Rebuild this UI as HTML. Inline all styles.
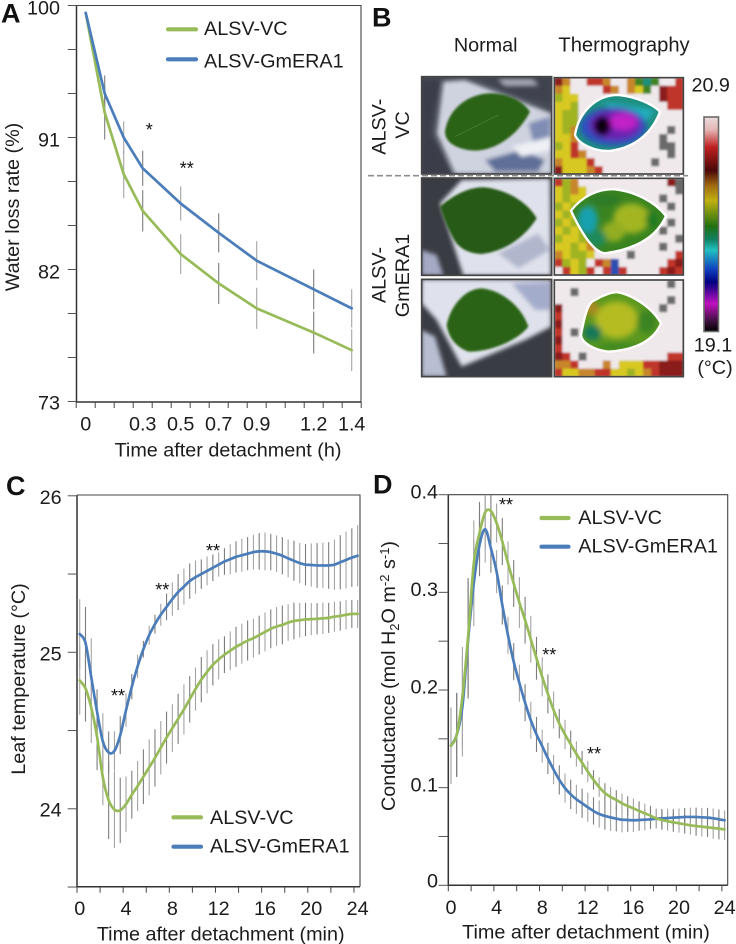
<!DOCTYPE html>
<html lang="en">
<head>
<meta charset="utf-8">
<title>ALSV-GmERA1 water loss and leaf physiology</title>
<style>
html,body{margin:0;padding:0;background:#fff;}
svg{position:absolute;left:0;top:0;display:block;}
text{font-family:"Liberation Sans",Arial,sans-serif;fill:#1c1c1c;font-size:19.8px;}
.pl{font-weight:bold;font-size:27px;fill:#111;}
.ast{font-size:18px;fill:#111;}
</style>
</head>
<body>
<svg id="fig" xmlns="http://www.w3.org/2000/svg" width="736" height="944" viewBox="0 0 736 944">
<defs>
<linearGradient id="cbar" x1="0" y1="0" x2="0" y2="1">
<stop offset="0" stop-color="#ecdcdc"/><stop offset="0.06" stop-color="#e4b4b4"/><stop offset="0.14" stop-color="#c02020"/>
<stop offset="0.25" stop-color="#4a0808"/><stop offset="0.32" stop-color="#a06a10"/><stop offset="0.39" stop-color="#c0b010"/>
<stop offset="0.51" stop-color="#207010"/><stop offset="0.57" stop-color="#108060"/><stop offset="0.62" stop-color="#20c0c0"/>
<stop offset="0.71" stop-color="#1040c0"/><stop offset="0.77" stop-color="#000080"/><stop offset="0.87" stop-color="#c010c0"/>
<stop offset="0.95" stop-color="#401040"/><stop offset="1" stop-color="#000"/>
</linearGradient>
<filter id="soft" x="-5%" y="-5%" width="110%" height="110%"><feGaussianBlur stdDeviation="6"/></filter>
<filter id="soft2" x="-5%" y="-5%" width="110%" height="110%"><feGaussianBlur stdDeviation="3"/></filter>
<filter id="soft3" x="-15%" y="-15%" width="130%" height="130%"><feGaussianBlur stdDeviation="9"/></filter>
<clipPath id="clipD"><rect x="440" y="494.7" width="295" height="395"/></clipPath>
<clipPath id="cN1"><rect x="170" y="230" width="390" height="292"/></clipPath>
<clipPath id="cN2"><rect x="170" y="24" width="390" height="292"/></clipPath>
<clipPath id="cN3"><rect x="170" y="328" width="390" height="292"/></clipPath>
<clipPath id="cT1"><rect x="568" y="233" width="387" height="289"/></clipPath>
<clipPath id="cT2"><rect x="568" y="25" width="387" height="290"/></clipPath>
<clipPath id="cT3"><rect x="568" y="330" width="387" height="290"/></clipPath>
<clipPath id="cL1"><path d="M630 405 C640 340 690 285 760 285 C810 290 860 310 885 335 C865 390 820 440 740 452 C690 458 640 430 630 405Z"/></clipPath>
<clipPath id="cL2"><path d="M618 122 C650 80 700 55 750 58 C810 65 870 95 903 138 C880 190 830 235 720 250 C680 245 640 170 618 122Z"/></clipPath>
<clipPath id="cL3"><path d="M648 495 C660 430 670 395 690 390 C710 378 740 365 760 367 C800 375 860 410 888 460 C870 505 820 540 730 545 C690 540 650 520 648 495Z"/></clipPath>
</defs>

<text class="pl" x="1" y="22.7">A</text>
<text class="pl" x="372" y="26.7">B</text>
<text class="pl" x="6" y="495">C</text>
<text class="pl" x="373" y="493.5">D</text>

<!-- Panel B photographs -->
<g id="panelB">
<g transform="translate(365,0) scale(0.33333)">
  <g clip-path="url(#cN1)">
    <rect x="170" y="230" width="390" height="292" fill="#474b58"/>
    <g filter="url(#soft)">
      <polygon points="170,240 225,240 195,400 265,522 170,522" fill="#3a3c48"/>
      <polygon points="235,245 300,240 560,340 560,522 270,522 215,400" fill="#cfd3e0"/>
      <polygon points="340,235 560,235 560,310 470,290" fill="#3f4350"/>
      <polygon points="400,238 500,238 520,255 420,256" fill="#a8acb8"/>
      <polygon points="360,480 470,450 540,480 520,515 390,515" fill="#5f6f98"/>
      <polygon points="490,370 555,350 555,440 505,430" fill="#7f8cb4"/>
      <polygon points="440,440 560,410 560,450 470,470" fill="#eef0f6"/>
    </g>
    <path d="M240 395 C250 320 320 275 390 280 C440 285 475 305 495 335 C470 385 410 450 330 452 C280 450 240 430 240 395Z" fill="#2b6216" filter="url(#soft2)"/>
    <path d="M270 410 L400 345" stroke="#417a2a" stroke-width="3" fill="none"/>
  </g>
  <rect x="170" y="230" width="390" height="292" fill="none" stroke="#444" stroke-width="5"/>
  <g clip-path="url(#cT1)"><g id="t1" filter="url(#soft2)"></g>
    <g clip-path="url(#cL1)">
      <rect x="620" y="280" width="270" height="180" fill="#1f8f80"/>
      <g filter="url(#soft3)">
        <path d="M680 300 L870 330 L830 380 L700 300Z" fill="#22b0c0"/>
        <ellipse cx="745" cy="380" rx="100" ry="58" fill="#2a4fc0"/>
        <ellipse cx="750" cy="375" rx="78" ry="46" fill="#6a20b0"/>
        <ellipse cx="775" cy="365" rx="42" ry="26" fill="#c020c8"/>
        <ellipse cx="712" cy="378" rx="26" ry="30" fill="#0a0410"/>
        <ellipse cx="712" cy="378" rx="22" ry="26" fill="#0a0410"/>
      </g>
    </g>
    <path d="M630 405 C640 340 690 285 760 285 C810 290 860 310 885 335 C865 390 820 440 740 452 C690 458 640 430 630 405Z" fill="none" stroke="#fff" stroke-width="7"/>
  </g>
  <rect x="568" y="233" width="387" height="289" fill="none" stroke="#444" stroke-width="5"/>
</g>
<g transform="translate(365,170) scale(0.33333)">
  <g clip-path="url(#cN2)">
    <rect x="170" y="24" width="390" height="292" fill="#3a3c44"/>
    <g filter="url(#soft)">
      <polygon points="225,100 290,30 555,25 558,316 295,316" fill="#dfe2ec"/>
      <polygon points="170,240 215,255 235,316 170,316" fill="#a4aac4"/>
      <polygon points="400,250 520,190 555,240 460,295" fill="#b0b6cc"/>
    </g>
    <path d="M225 110 C270 70 320 50 360 52 C430 60 490 100 515 145 C480 200 420 245 350 252 C310 250 280 235 265 205 C245 170 235 140 225 110Z" fill="#255a18" filter="url(#soft2)"/>
  </g>
  <rect x="170" y="24" width="390" height="292" fill="none" stroke="#444" stroke-width="5"/>
  <g clip-path="url(#cT2)"><g id="t2" filter="url(#soft2)"></g>
    <g clip-path="url(#cL2)">
      <rect x="610" y="50" width="300" height="205" fill="#3a8420"/>
      <g filter="url(#soft3)">
        <ellipse cx="800" cy="145" rx="55" ry="45" fill="#a3b624"/>
        <ellipse cx="745" cy="185" rx="35" ry="30" fill="#93ad22"/>
        <ellipse cx="720" cy="90" rx="50" ry="18" fill="#2e7a28"/>
        <ellipse cx="860" cy="150" rx="18" ry="25" fill="#1f7a20"/>
        <ellipse cx="668" cy="150" rx="30" ry="42" fill="#18a0b0"/>
        <ellipse cx="695" cy="205" rx="30" ry="25" fill="#1e8a5a"/>
      </g>
    </g>
    <path d="M618 122 C650 80 700 55 750 58 C810 65 870 95 903 138 C880 190 830 235 720 250 C680 245 640 170 618 122Z" fill="none" stroke="#fff" stroke-width="7"/>
  </g>
  <rect x="568" y="25" width="387" height="290" fill="none" stroke="#444" stroke-width="5"/>
  <g clip-path="url(#cN3)">
    <rect x="170" y="328" width="390" height="292" fill="#3a3c44"/>
    <g filter="url(#soft)">
      <polygon points="170,328 558,328 558,470 480,510 290,590 215,450 170,400" fill="#dfe2ec"/>
      <polygon points="170,480 210,500 245,620 170,620" fill="#b8bed2"/>
      <polygon points="440,340 555,335 555,420 510,420" fill="#a4accc"/>
    </g>
    <path d="M245 465 C255 410 300 355 350 355 C410 360 470 410 490 470 C460 510 380 545 310 545 C270 530 250 500 245 465Z" fill="#2a6417" filter="url(#soft2)"/>
  </g>
  <rect x="170" y="328" width="390" height="292" fill="none" stroke="#444" stroke-width="5"/>
  <g clip-path="url(#cT3)"><g id="t3" filter="url(#soft2)"></g>
    <g clip-path="url(#cL3)">
      <rect x="640" y="360" width="255" height="190" fill="#5c9820"/>
      <g filter="url(#soft3)">
        <ellipse cx="755" cy="450" rx="65" ry="55" fill="#b4bc22"/>
        <ellipse cx="680" cy="415" rx="22" ry="22" fill="#a88a22"/>
        <ellipse cx="845" cy="455" rx="30" ry="35" fill="#3a8420"/>
        <ellipse cx="682" cy="488" rx="28" ry="24" fill="#177858"/>
        <ellipse cx="760" cy="530" rx="70" ry="12" fill="#3f8a22"/>
      </g>
    </g>
    <path d="M648 495 C660 430 670 395 690 390 C710 378 740 365 760 367 C800 375 860 410 888 460 C870 505 820 540 730 545 C690 540 650 520 648 495Z" fill="none" stroke="#fff" stroke-width="7"/>
  </g>
  <rect x="568" y="330" width="387" height="290" fill="none" stroke="#444" stroke-width="5"/>
</g>
<line x1="368" y1="175.7" x2="688" y2="175.7" stroke="#8c8c8c" stroke-width="1.6" stroke-dasharray="6 3"/>
<text x="485.7" y="51.7" text-anchor="middle">Normal</text>
<text x="624" y="51.7" text-anchor="middle" style="font-size:20.2px">Thermography</text>
<text transform="translate(385.7,126.7) rotate(-90)" text-anchor="middle">ALSV-</text>
<text transform="translate(409,125) rotate(-90)" text-anchor="middle">VC</text>
<text transform="translate(385.7,275) rotate(-90)" text-anchor="middle">ALSV-</text>
<text transform="translate(409,275.5) rotate(-90)" text-anchor="middle">GmERA1</text>
<rect x="704" y="117" width="14.5" height="214.5" fill="url(#cbar)" stroke="#6a6a6a" stroke-width="1.6"/>
<text x="710.7" y="91.7" text-anchor="middle">20.9</text>
<text x="713" y="351.7" text-anchor="middle">19.1</text>
<text x="715" y="374" text-anchor="middle">(°C)</text>
</g>

<!-- Static axis titles -->
<text transform="translate(19,207) rotate(-90)" text-anchor="middle">Water loss rate (%)</text>
<text x="228" y="456.7" text-anchor="middle">Time after detachment (h)</text>
<text transform="translate(25,679) rotate(-90)" text-anchor="middle">Leaf temperature (°C)</text>
<text x="220.7" y="940.7" text-anchor="middle">Time after detachment (min)</text>
<text transform="translate(395,676) rotate(-90)" text-anchor="middle">Conductance (mol H<tspan font-size="13" dy="4">2</tspan><tspan dy="-4">O m</tspan><tspan font-size="13" dy="-6">-2</tspan><tspan dy="6"> s</tspan><tspan font-size="13" dy="-6">-1</tspan><tspan dy="6">)</tspan></text>
<text x="586" y="938.3" text-anchor="middle">Time after detachment (min)</text>

<!-- Significance marks -->
<text class="ast" x="149.3" y="136" text-anchor="middle">*</text>
<text class="ast" x="186.7" y="174.5" text-anchor="middle">**</text>
<text class="ast" x="118" y="702" text-anchor="middle">**</text>
<text class="ast" x="162.3" y="596" text-anchor="middle">**</text>
<text class="ast" x="213" y="557" text-anchor="middle">**</text>
<text class="ast" x="506" y="511" text-anchor="middle">**</text>
<text class="ast" x="549.3" y="661" text-anchor="middle">**</text>
<text class="ast" x="594" y="760" text-anchor="middle">**</text>
</svg>

<script>
// ---- Panel A data ----
const aTimes = [0, 0.1, 0.2, 0.3, 0.5, 0.7, 0.9, 1.2, 1.4];
const aGreen = [99.5, 92.7, 88.5, 86.0, 83.05, 81.05, 79.35, 77.7, 76.5];
const aBlue = [99.5, 94.0, 91.0, 88.9, 86.5, 84.5, 82.6, 80.65, 79.35];
const aGreenErr = [0, 1.84, 1.64, 1.41, 1.36, 1.4, 1.4, 1.43, 1.43];
const aBlueErr = [0, 1.23, 1.1, 1.2, 1.16, 1.33, 1.33, 1.36, 1.3];
const aYTicks = [100, 97, 94, 91, 88, 85, 82, 79, 76, 73];
const aYLabels = [100, 91, 82, 73];
const aXTicks = [-0.05, 0.05, 0.15, 0.25, 0.35, 0.45, 0.55, 0.65, 0.75, 0.85, 0.95, 1.05, 1.15, 1.25, 1.35, 1.45];
const aXLabels = ['0', '0.3', '0.5', '0.7', '0.9', '1.2', '1.4'];
const aXLabelValues = [0, 0.3, 0.5, 0.7, 0.9, 1.2, 1.4];

// ---- Panels C and D share the half-minute time base ----
const minTimes = [0,0.5,1,1.5,2,2.5,3,3.5,4,4.5,5,5.5,6,6.5,7,7.5,8,8.5,9,9.5,10,10.5,11,11.5,12,12.5,13,13.5,14,14.5,15,15.5,16,16.5,17,17.5,18,18.5,19,19.5,20,20.5,21,21.5,22,22.5,23,23.5,24];
const minXTicks = [0, 2, 4, 6, 8, 10, 12, 14, 16, 18, 20, 22, 24];
const minXLabels = [0, 4, 8, 12, 16, 20, 24];

// ---- Panel C data ----
const cGreen = [24.82,24.77,24.645,24.46,24.2,24.055,23.995,23.99,24.03,24.09,24.145,24.205,24.265,24.325,24.39,24.455,24.515,24.575,24.635,24.7,24.765,24.825,24.875,24.92,24.955,24.985,25.01,25.035,25.055,25.075,25.09,25.11,25.13,25.15,25.165,25.175,25.19,25.2,25.205,25.21,25.212,25.214,25.217,25.22,25.228,25.232,25.24,25.245,25.245];
const cBlue = [25.117,25.06,24.84,24.62,24.43,24.36,24.37,24.47,24.63,24.78,24.91,25.02,25.11,25.18,25.24,25.29,25.34,25.385,25.42,25.455,25.48,25.5,25.52,25.54,25.56,25.58,25.595,25.61,25.62,25.63,25.64,25.645,25.645,25.64,25.63,25.617,25.6,25.585,25.57,25.56,25.558,25.555,25.555,25.555,25.56,25.575,25.59,25.605,25.617];
const cGreenErr = [.219,.213,.224,.213,.177,.249,.245,.209,.177,.153,.16,.175,.179,.183,.17,.166,.153,.16,.16,.149,.138,.145,.138,.132,.128,.117,.124,.128,.128,.128,.124,.124,.124,.124,.124,.124,.117,.117,.111,.106,.102,.1,.1,.096,.096,.094,.094,.089,.089];
const cBlueErr = [.222,.23,.249,.143,.181,.134,.126,.121,.106,.081,.075,.053,.06,.06,.07,.085,.106,.115,.115,.113,.106,.094,.092,.085,.077,.085,.096,.1,.106,.106,.111,.117,.121,.117,.117,.119,.121,.128,.128,.132,.138,.143,.145,.149,.16,.173,.181,.187,.196];
const cYTicks = [26, 25.5, 25, 24.5, 24, 23.5];
const cYLabels = [26, 25, 24];

// ---- Panel D data ----
const dGreen = [.143,.154,.193,.2546,.3297,.3607,.382,.3833,.371,.352,.33,.309,.2895,.2715,.252,.2325,.2135,.196,.1795,.1655,.1545,.1445,.1345,.1255,.1165,.108,.1005,.0945,.0905,.0874,.084,.0812,.0788,.0761,.0737,.0713,.0686,.0669,.0655,.0645,.0635,.0625,.0614,.0607,.06,.0594,.0587,.058,.0573];
const dBlue = [.143,.154,.183,.2512,.3093,.3485,.3646,.3451,.3212,.287,.256,.229,.207,.187,.169,.1545,.1425,.13,.1185,.108,.0995,.0932,.0881,.084,.0799,.0761,.073,.071,.0696,.0682,.0672,.0669,.0666,.0669,.0672,.0676,.0682,.0686,.0689,.0693,.0696,.07,.07,.07,.0696,.0693,.0686,.0676,.0666];
const dGreenErr = [.039,.043,.051,.06,.044,.032,.038,.027,.02,.024,.022,.024,.026,.024,.024,.022,.02,.02,.019,.015,.015,.014,.013,.012,.011,.01,.01,.01,.01,.01,.01,.01,.01,.01,.01,.01,.01,.01,.0096,.0096,.0096,.0096,.0096,.01,.01,.01,.011,.011,.011];
const dBlueErr = [.039,.043,.051,.06,.044,.032,.034,.025,.022,.02,.019,.019,.019,.019,.019,.018,.017,.016,.015,.015,.015,.015,.015,.015,.015,.014,.014,.014,.014,.013,.013,.012,.012,.011,.011,.01,.01,.0095,.0095,.009,.009,.0092,.0095,.0095,.0095,.01,.01,.01,.01];
const dYTicks = [0.4, 0.35, 0.3, 0.25, 0.2, 0.15, 0.1, 0.05, 0];
const dYLabels = ['0.4', '0.3', '0.2', '0.1', '0'];
const dYLabelValues = [0.4, 0.3, 0.2, 0.1, 0];

const seriesNames = ['ALSV-VC', 'ALSV-GmERA1'];

// ---- Thermography surroundings (coarse colour blocks) ----
const thermoPalette = {w:'#efe9ec',r:'#c0352a',d:'#8a1a1c',o:'#c8862a',y:'#d8c820',l:'#a0b420',g:'#3f8420',t:'#1e8f78',c:'#2aa8c0',b:'#2a4fb0',p:'#7020a8',m:'#b020c0',k:'#100818',n:'#6a6a6a'};
const thermo1 = ["dowwrrowwogtgwwr","oywwwwrowoygwdrr","lyywwwwwwwwwwdrr","yylwwwwwwwwwwwrr","yllwwwwwwwwwwwww","yllwwwwwwwwwwwww","ylowwwwwwwwwwwnw","yyowwwwwwwwwwnww","lyrwwwwwwwwwwnnw","yyrowwwwwwwwwwnw","oyyyrwwwwwwwnwww","dyyyorwwwwwwwwww"];
const thermo2 = ["rlowwwwwwwwwwwdn","yloywwwwwwwwwwwn","ylyywwwwwwwwwnww","lylrwwwwwwwwwwnw","ylylwwwwwwwwwwww","lylywwwwwwwwwwnw","ylylwwwwwwwwwnww","lyyloowwwwwwwwwn","yylyowwwwwwwwnww","oyllywwwwnwwwwwr","rlylwrobwwwwwwrd","wrylrwrbrwwwwrdr"];
const thermo3 = ["wwwwwwwwwwwwwwnw","wwnwwwwwwwwwwwww","wwwwwwwwwwwwwwnw","dwwwwwwwwwwwwnww","rwwwwwwwwwwwwwww","dwwwwwwwwwwwnwww","rwnwwwwwwwwwwwww","dwwwwwwwwwwwwwww","rwwwwwwwwwwwwwww","drwnwwwwwwwwwwrr","oorwwwowyyyrrddd","ryyoorryylyorddd"];

const NS = 'http://www.w3.org/2000/svg';
const GREEN = '#97bb58';
const BLUE = '#4a7dba';
const svg = document.getElementById('fig');

function add(parent, tag, attrs, txt) {
  const el = document.createElementNS(NS, tag);
  for (const k in attrs) el.setAttribute(k, attrs[k]);
  if (txt !== undefined) el.textContent = txt;
  parent.appendChild(el);
  return el;
}

function drawMosaic(targetId, rows, x0, y0) {
  const g = document.getElementById(targetId);
  const cw = 387 / rows[0].length;
  const ch = 290 / rows.length;
  rows.forEach(function (row, r) {
    row.split('').forEach(function (c, i) {
      const cell = add(g, 'rect', {x: x0 + i * cw, y: y0 + r * ch, width: cw + 1, height: ch + 1, fill: thermoPalette[c]});
      
      
    });
  });
}
drawMosaic('t1', thermo1, 568, 233);
drawMosaic('t2', thermo2, 568, 25);
drawMosaic('t3', thermo3, 568, 330);

function linePath(xs, ys, fx, fy, smooth) {
  const pts = xs.map(function (v, i) { return [fx(v), fy(ys[i])]; });
  let d = 'M' + pts[0][0].toFixed(2) + ' ' + pts[0][1].toFixed(2);
  for (let i = 1; i < pts.length; i++) {
    const p1 = pts[i - 1], p2 = pts[i];
    if (!smooth) { d += ' L' + p2[0].toFixed(2) + ' ' + p2[1].toFixed(2); continue; }
    const p0 = pts[i - 2] || p1, p3 = pts[i + 1] || p2;
    d += ' C' + (p1[0] + (p2[0] - p0[0]) / 6).toFixed(2) + ' ' + (p1[1] + (p2[1] - p0[1]) / 6).toFixed(2) +
         ' ' + (p2[0] - (p3[0] - p1[0]) / 6).toFixed(2) + ' ' + (p2[1] - (p3[1] - p1[1]) / 6).toFixed(2) +
         ' ' + p2[0].toFixed(2) + ' ' + p2[1].toFixed(2);
  }
  return d;
}

function drawChart(c) {
  const root = add(svg, 'g', {});
  
  

  const frame = add(root, 'path', {d: 'M' + c.left + ' ' + c.top + ' H' + c.right + ' V' + c.bottom, fill: 'none', stroke: '#444', 'stroke-width': 1.1});
  
  
  const axes = add(root, 'path', {d: 'M' + c.left + ' ' + c.top + ' V' + c.bottom + ' H' + c.right, fill: 'none', stroke: '#333', 'stroke-width': 1.5});
  
  

  c.yTicks.forEach(function (v) {
    const t = add(root, 'line', {x1: c.tickLeft, x2: c.left, y1: c.y(v), y2: c.y(v), stroke: '#555', 'stroke-width': 1});
    
    
  });
  c.yLabelValues.forEach(function (v, i) {
    const isLast = i === c.yLabelValues.length - 1;
    const t = add(root, 'text', {x: c.yLabelX, y: c.y(v) + (isLast ? c.yLabelDyLast : c.yLabelDy), 'text-anchor': 'end'}, c.yLabels[i]);
    
    
  });
  c.xTicks.forEach(function (v) {
    const t = add(root, 'line', {x1: c.tickX(v), x2: c.tickX(v), y1: c.bottom, y2: c.bottom + 6, stroke: '#444', 'stroke-width': 1});
    
    
  });
  c.xLabelValues.forEach(function (v, i) {
    const t = add(root, 'text', {x: c.x(v), y: c.xLabelY, 'text-anchor': 'middle'}, c.xLabels[i]);
    
    
  });

  const barLayer = add(root, 'g', c.clip ? {'clip-path': c.clip} : {});
  
  
  c.series.forEach(function (s) {
    s.values.forEach(function (v, i) {
      if (!s.err[i]) return;
      const b = add(barLayer, 'line', {x1: c.x(c.times[i]), x2: c.x(c.times[i]), y1: c.y(v + s.err[i]), y2: c.y(v - s.err[i]), stroke: i % 2 ? '#7d7d7d' : '#a4a4a4', 'stroke-width': 1.1});
      
      
    });
  });
  c.series.forEach(function (s) {
    const p = add(root, 'path', {d: linePath(c.times, s.values, c.x, c.y, c.smooth), fill: 'none', stroke: s.color, 'stroke-width': 2.7, 'stroke-linejoin': 'round', 'stroke-linecap': 'round'});
    
    
  });

  c.legend.forEach(function (l, i) {
    const ln = add(root, 'line', {x1: c.legendX1, x2: c.legendX2, y1: l.lineY, y2: l.lineY, stroke: i ? BLUE : GREEN, 'stroke-width': 4.2, 'stroke-linecap': 'round'});
    
    
    const tx = add(root, 'text', {x: c.legendTextX, y: l.textY}, seriesNames[i]);
    
    
  });
}

drawChart({
  id: 'a', left: 76.5, right: 361, top: 5.5, bottom: 402, tickLeft: 67.7, smooth: false,
  x: function (t) { return 85.7 + 190 * t; }, tickX: function (t) { return 85.7 + 190 * t; },
  y: function (v) { return 5.5 + (100 - v) * 132 / 9; },
  times: aTimes, yTicks: aYTicks, yLabels: aYLabels, yLabelValues: aYLabels, yLabelX: 60, yLabelDy: 9, yLabelDyLast: 8,
  xTicks: aXTicks, xLabels: aXLabels, xLabelValues: aXLabelValues, xLabelY: 430.7,
  series: [{key: 'vc', color: GREEN, values: aGreen, err: aGreenErr}, {key: 'gmera1', color: BLUE, values: aBlue, err: aBlueErr}],
  legendX1: 168, legendX2: 196, legendTextX: 204, legend: [{lineY: 29.3, textY: 35}, {lineY: 59.3, textY: 67.7}]
});

drawChart({
  id: 'c', left: 77, right: 360, top: 495, bottom: 886.7, tickLeft: 67.7, smooth: true,
  x: function (t) { return 79.7 + 11.58 * t; }, tickX: function (t) { return 77 + 11.54 * t; },
  y: function (v) { return 652.3 - (v - 25) * 156.5; },
  times: minTimes, yTicks: cYTicks, yLabels: cYLabels, yLabelValues: cYLabels, yLabelX: 61.7, yLabelDy: 8, yLabelDyLast: 7.5,
  xTicks: minXTicks, xLabels: minXLabels, xLabelValues: minXLabels, xLabelY: 915,
  series: [{key: 'vc', color: GREEN, values: cGreen, err: cGreenErr}, {key: 'gmera1', color: BLUE, values: cBlue, err: cBlueErr}],
  legendX1: 173.5, legendX2: 201, legendTextX: 210, legend: [{lineY: 817.3, textY: 824}, {lineY: 846.7, textY: 852.7}]
});

drawChart({
  id: 'd', left: 448.3, right: 727.7, top: 494.7, bottom: 885.3, tickLeft: 438.5, clip: 'url(#clipD)', smooth: true,
  x: function (t) { return 451 + 11.4 * t; }, tickX: function (t) { return 448.3 + 11.4 * t; },
  y: function (v) { return 885.3 - v * 976.5; },
  times: minTimes, yTicks: dYTicks, yLabels: dYLabels, yLabelValues: dYLabelValues, yLabelX: 438, yLabelDy: 3.7, yLabelDyLast: 2,
  xTicks: minXTicks, xLabels: minXLabels, xLabelValues: minXLabels, xLabelY: 914,
  series: [{key: 'gmera1', color: BLUE, values: dBlue, err: dBlueErr}, {key: 'vc', color: GREEN, values: dGreen, err: dGreenErr}],
  legendX1: 541.5, legendX2: 568.5, legendTextX: 578.3, legend: [{lineY: 518, textY: 524}, {lineY: 546.7, textY: 552.7}]
});
</script>
</body>
</html>
